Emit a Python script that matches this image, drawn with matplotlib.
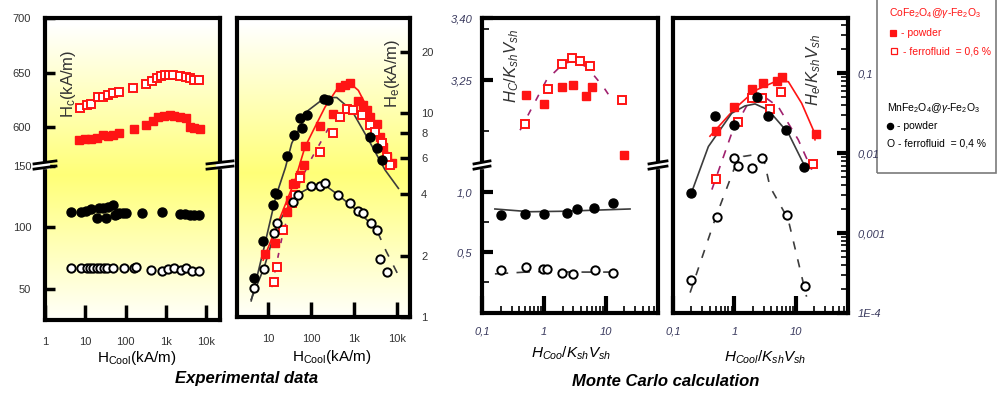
import numpy as np
import matplotlib.pyplot as plt
from matplotlib import ticker
from matplotlib.lines import Line2D
from matplotlib.patches import Rectangle
from matplotlib.colors import LinearSegmentedColormap

W, H = 998, 395

plt.rcParams['font.family'] = ['Liberation Sans', 'DejaVu Sans']
plt.rcParams['mathtext.fontset'] = 'custom'
plt.rcParams['mathtext.rm'] = 'Liberation Sans'
plt.rcParams['mathtext.it'] = 'Liberation Sans:italic'
plt.rcParams['mathtext.bf'] = 'Liberation Sans:bold'

# ---------------- experimental: Hc (kA/m) vs Hcool (kA/m)
hc_co_ff_x = [7.4, 10.8, 14, 20, 27, 36, 48, 67, 152, 309, 437, 583, 750, 944, 1150, 1520, 2240, 3030, 3800, 4780, 6400]
hc_co_ff_y = [618, 620, 621, 627.5, 628, 629.6, 631, 632.6, 636, 640, 642.5, 644.7, 646.5, 647.4, 647.7, 647.7, 646.5, 645.6, 644.7, 643.5, 643.5]
hc_co_pw_x = [7.1, 10, 13.9, 19.2, 27, 36, 48, 67, 158, 311, 465, 645, 890, 1220, 1580, 2240, 3160, 3980, 5000, 6800]
hc_co_pw_y = [588.4, 589, 589.3, 590.2, 593, 592.4, 593.3, 594.5, 598, 602, 605.7, 609, 610.6, 611.3, 610.6, 609.7, 608.5, 600.5, 599.6, 598]
hc_mn_pw_x = [4.4, 7.8, 10.4, 13.9, 19.2, 22, 27, 33, 36, 48, 53, 60, 70, 85, 104, 247, 805, 2240, 2990, 3980, 4800, 6400]
hc_mn_pw_y = [112.6, 112.6, 113.4, 114.6, 107.3, 115.4, 116, 107.3, 116.7, 118, 110, 111, 111.3, 111.5, 111.8, 111.8, 112.1, 110.5, 110.5, 109.7, 109.7, 109.7]
hc_mn_ff_x = [4.4, 7.8, 10.8, 13.1, 15.8, 19.2, 23.3, 28.2, 34, 48, 89, 158, 184, 414, 780, 1140, 1530, 2370, 3160, 4400, 6400]
hc_mn_ff_y = [66.8, 66.8, 66.8, 66.8, 66.8, 66.8, 66.8, 66.8, 66.8, 66.8, 66.8, 66.8, 68.1, 65.4, 64.6, 66, 66.8, 65.4, 66.8, 64.9, 64.9]

# ---------------- experimental: He (kA/m) vs Hcool (kA/m)
he_mn_pw_x = [4.7, 7.6, 13.1, 14.3, 15.7, 26.7, 40, 55, 60, 78, 200, 250, 2350, 3340, 4350]
he_mn_pw_y = [1.55, 2.36, 3.54, 4.04, 4.0, 6.15, 7.8, 9.5, 8.4, 9.8, 11.7, 11.6, 7.65, 6.7, 5.9]
he_mn_pw_fit_x = [4.0, 8, 15, 25, 35, 85, 209, 390, 870, 2130, 5200, 10600]
he_mn_pw_fit_y = [1.2, 2.2, 3.9, 5.4, 7.1, 10.3, 11.9, 11.9, 10.3, 7.4, 5.25, 4.27]

he_mn_ff_x = [4.6, 8.1, 13.2, 15.7, 38, 48, 98, 159, 209, 410, 795, 1240, 1620, 2450, 3330, 3960, 5880]
he_mn_ff_y = [1.38, 1.71, 2.59, 2.9, 3.67, 3.96, 4.39, 4.39, 4.52, 3.96, 3.63, 3.32, 3.22, 2.88, 2.67, 1.92, 1.67]
he_mn_ff_fit_x = [4.0, 8, 15.7, 40, 100, 200, 400, 1200, 2500, 3500, 5500, 10600]
he_mn_ff_fit_y = [1.22, 1.75, 2.8, 3.9, 4.35, 4.45, 4.0, 3.3, 2.85, 2.6, 2.1, 1.6]

he_co_pw_x = [8.4, 14.3, 27, 32, 38, 42, 55, 69, 71, 159, 325, 465, 600, 795, 1240, 1620, 1940, 2340, 3330, 3960, 4760, 5660, 7400]
he_co_pw_y = [2.04, 2.3, 3.28, 3.74, 4.5, 4.55, 4.97, 5.56, 6.9, 8.6, 9.9, 13.4, 13.7, 14.0, 11.4, 10.9, 10.3, 9.6, 8.8, 7.65, 6.8, 6.1, 5.7]
he_co_pw_fit_x = [7.6, 42, 71, 122, 209, 425, 730, 1240, 2550, 5200, 8800]
he_co_pw_fit_y = [1.9, 4.7, 6.8, 8.55, 10.7, 13.4, 14.2, 12.9, 9.6, 6.8, 5.45]

he_co_ff_x = [13.2, 15.7, 22.4, 35, 42, 55, 159, 325, 465, 665, 950, 1490, 2340, 3030, 4350, 5660, 6760]
he_co_ff_y = [1.49, 1.76, 2.67, 3.6, 3.96, 4.8, 6.46, 8.0, 9.6, 10.5, 10.3, 9.8, 8.7, 8.1, 7.1, 6.1, 5.56]
he_co_ff_fit_x = [12, 22, 45, 93, 250, 600, 1000, 2500, 5000, 9000]
he_co_ff_fit_y = [1.4, 2.6, 4.2, 5.8, 8.4, 10.2, 10.4, 8.3, 6.3, 5.0]

# ---------------- Monte Carlo: Hc/KshVsh vs Hcool/KshVsh
mc_hc_co_pw_x = [0.51, 1.0, 1.94, 2.92, 4.73, 5.93, 19.8]
mc_hc_co_pw_y = [3.2135, 3.192, 3.234, 3.238, 3.211, 3.232, 3.068]
mc_hc_co_ff_x = [0.49, 1.17, 1.94, 2.88, 3.83, 5.57, 18.2]
mc_hc_co_ff_y = [3.142, 3.227, 3.29, 3.304, 3.297, 3.284, 3.201]
mc_hc_co_ff_fit_x = [0.41, 1.1, 2.06, 2.99, 4.93, 9.1, 13.3]
mc_hc_co_ff_fit_y = [3.128, 3.25, 3.29, 3.296, 3.282, 3.234, 3.197]
mc_hc_mn_pw_x = [0.2, 0.5, 0.99, 2.33, 3.39, 6.5, 13.3]
mc_hc_mn_pw_y = [0.811, 0.819, 0.819, 0.83, 0.858, 0.867, 0.908]
mc_hc_mn_pw_fit_x = [0.16, 0.59, 2.06, 24.8]
mc_hc_mn_pw_fit_y = [0.861, 0.838, 0.842, 0.861]
mc_hc_mn_ff_x = [0.2, 0.51, 0.95, 1.13, 1.98, 2.92, 6.7, 13.3]
mc_hc_mn_ff_y = [0.353, 0.375, 0.358, 0.358, 0.33, 0.317, 0.353, 0.325]
mc_hc_mn_ff_fit_x = [0.16, 0.5, 1.0, 3.0, 10, 20]
mc_hc_mn_ff_fit_y = [0.32, 0.335, 0.34, 0.335, 0.335, 0.335]

# ---------------- Monte Carlo: He/KshVsh vs Hcool/KshVsh
mc_he_co_pw_x = [0.5, 1.0, 1.96, 2.9, 4.9, 5.9, 21.2]
mc_he_co_pw_y = [0.0192, 0.0376, 0.063, 0.075, 0.080, 0.0907, 0.0174]
mc_he_co_pw_fit_x = [0.4, 1.03, 2.17, 4.6, 7.57, 12.5, 19.3, 20.6]
mc_he_co_pw_fit_y = [0.0163, 0.0365, 0.0607, 0.0785, 0.0785, 0.042, 0.0195, 0.0147]
mc_he_co_ff_x = [0.5, 1.16, 1.92, 2.86, 3.81, 5.7, 18.9]
mc_he_co_ff_y = [0.0048, 0.0248, 0.0487, 0.0487, 0.0358, 0.059, 0.0073]
mc_he_co_ff_fit_x = [0.43, 0.906, 1.92, 2.79, 5.2, 11, 18.2]
mc_he_co_ff_fit_y = [0.0035, 0.0178, 0.051, 0.0535, 0.038, 0.0147, 0.0062]
mc_he_mn_pw_x = [0.2, 0.49, 0.98, 2.32, 3.5, 6.87, 13.6]
mc_he_mn_pw_y = [0.0032, 0.0288, 0.0226, 0.05, 0.0295, 0.0195, 0.0067]
mc_he_mn_pw_fit_x = [0.2, 0.377, 0.906, 1.49, 2.17, 3.57, 7.57, 14.1]
mc_he_mn_pw_fit_y = [0.0032, 0.0121, 0.0316, 0.039, 0.0413, 0.0347, 0.0178, 0.0068]
mc_he_mn_ff_x = [0.2, 0.52, 1.0, 1.16, 1.92, 2.86, 7.1, 14.2]
mc_he_mn_ff_y = [0.00026, 0.0016, 0.0087, 0.007, 0.0065, 0.0087, 0.0017, 0.000215]
mc_he_mn_ff_fit_x = [0.19, 0.5, 1.0, 1.4, 2.0, 3.0, 3.8, 7.5, 15]
mc_he_mn_ff_fit_y = [0.00018, 0.0016, 0.0065, 0.0091, 0.0095, 0.0085, 0.0038, 0.0015, 0.00016]

RED = '#ff1414'
PURPLE = '#a0206e'
GREY = '#3c3c3c'
LBL = '#333333'
MCLBL = '#3a3a5e'


def px_rect(l, t, r, b):
    return [l / W, 1 - b / H, (r - l) / W, (b - t) / H]


def fx(x):
    return x / W


def fy(y):
    return 1 - y / H


fig = plt.figure(figsize=(W / 100, H / 100), dpi=100)

# yellow backdrop behind the experimental panels
cmap = LinearSegmentedColormap.from_list('wy', ['#ffffff', '#ffff78'])
prof = np.linspace(0, 1, 300)
prof = np.clip(1 - np.abs(prof - 0.52) / 0.5, 0, 1)[:, None]
for box in [(45, 18, 220, 320), (237, 18, 410, 317)]:
    bg = fig.add_axes(px_rect(*box), zorder=0)
    bg.imshow(prof, aspect='auto', cmap=cmap, vmin=0, vmax=1, extent=[0, 1, 0, 1])
    bg.axis('off')


def style_frame(ax):
    ax.set_facecolor('none')
    for s in ax.spines.values():
        s.set_linewidth(3)


def red_pw(ax, x, y):
    ax.plot(x, y, 's', ms=6, color=RED, mec=RED, zorder=3, clip_on=False)


def red_ff(ax, x, y):
    ax.plot(x, y, 's', ms=5.5, mfc='white', mec=RED, mew=1.4, zorder=3, clip_on=False)


def blk_pw(ax, x, y):
    ax.plot(x, y, 'o', ms=6.5, color='black', zorder=3, clip_on=False)


def blk_ff(ax, x, y):
    ax.plot(x, y, 'o', ms=6, mfc='white', mec='black', mew=1.4, zorder=3, clip_on=False)


def break_mark(x, y, half):
    fig.add_artist(Rectangle((fx(x - 4), fy(y + 2.5)), 8 / W, 5 / H, transform=fig.transFigure,
                             color='white', zorder=20))
    for dy in (-2.6, 2.6):
        fig.add_artist(Line2D([fx(x - half), fx(x + half)], [fy(y + dy + 1.5), fy(y + dy - 1.5)],
                              transform=fig.transFigure, color='black', lw=2, zorder=21))


# ---------------- panel 1: Hc, broken y axis
a1u = fig.add_axes(px_rect(45, 18, 220, 165), zorder=1)
a1l = fig.add_axes(px_rect(45, 165, 220, 320), zorder=1)
for ax in (a1u, a1l):
    style_frame(ax)
    ax.set_xscale('log')
    ax.set_xlim(1, 21600)
    ax.xaxis.set_minor_locator(ticker.NullLocator())
    ax.tick_params(axis='y', direction='in', length=7, width=2.5, pad=10, labelsize=8, labelcolor=LBL)
a1u.spines['bottom'].set_visible(False)
a1l.spines['top'].set_visible(False)
a1u.tick_params(axis='x', which='both', bottom=False, labelbottom=False)
a1u.set_ylim(565.4, 700)
a1l.set_ylim(25, 150.5)
a1u.set_yticks([600, 650, 700])
a1l.set_yticks([50, 100, 150])
a1l.set_xticks([1, 10, 100, 1e3, 1e4], ['1', '10', '100', '1k', '10k'])
a1l.tick_params(axis='x', direction='in', length=11, width=2.5, pad=12, labelsize=8, labelcolor=LBL)

red_ff(a1u, hc_co_ff_x, hc_co_ff_y)
red_pw(a1u, hc_co_pw_x, hc_co_pw_y)
blk_pw(a1l, hc_mn_pw_x, hc_mn_pw_y)
blk_ff(a1l, hc_mn_ff_x, hc_mn_ff_y)

break_mark(45, 165, 11)
break_mark(220, 165, 13)
fig.text(fx(68), fy(84), r'$\mathrm{H_c}$(kA/m)', rotation=90, ha='center', va='center', fontsize=12, color=LBL)
fig.text(fx(137), fy(358), r'$\mathrm{H_{Cool}}$(kA/m)', ha='center', va='center', fontsize=11)

# ---------------- panel 2: He
a2 = fig.add_axes(px_rect(237, 18, 410, 317), zorder=1)
style_frame(a2)
a2.set_xscale('log')
a2.set_yscale('log')
a2.set_xlim(1.87, 19700)
a2.set_ylim(1, 29.2)
a2.xaxis.set_minor_locator(ticker.NullLocator())
a2.yaxis.set_minor_locator(ticker.NullLocator())
a2.set_xticks([10, 100, 1e3, 1e4], ['10', '100', '1k', '10k'])
a2.yaxis.tick_right()
a2.set_yticks([1, 2, 4, 6, 8, 10, 20], ['1', '2', '4', '6', '8', '10', '20'])
a2.tick_params(axis='x', direction='in', length=11, width=2.5, pad=12, labelsize=8, labelcolor=LBL)
a2.tick_params(axis='y', direction='in', length=7, width=2.5, pad=8, labelsize=8, labelcolor=LBL)

a2.plot(he_mn_pw_fit_x, he_mn_pw_fit_y, color=GREY, lw=1.2, zorder=2)
a2.plot(he_mn_ff_fit_x[:10], he_mn_ff_fit_y[:10], color=GREY, lw=1.2, zorder=2)
a2.plot(he_mn_ff_fit_x[9:], he_mn_ff_fit_y[9:], color=GREY, lw=1.2, ls=(0, (5, 6)), zorder=2)
a2.plot(he_co_pw_fit_x, he_co_pw_fit_y, color=RED, lw=1.2, zorder=2)
a2.plot(he_co_ff_fit_x, he_co_ff_fit_y, color=PURPLE, lw=1.2, ls=(0, (3, 6)), zorder=2)
red_pw(a2, he_co_pw_x, he_co_pw_y)
red_ff(a2, he_co_ff_x, he_co_ff_y)
blk_pw(a2, he_mn_pw_x, he_mn_pw_y)
blk_ff(a2, he_mn_ff_x, he_mn_ff_y)

fig.text(fx(392), fy(73), r'$\mathrm{H_e}$(kA/m)', rotation=90, ha='center', va='center', fontsize=12, color=LBL)
fig.text(fx(332), fy(357), r'$\mathrm{H_{Cool}}$(kA/m)', ha='center', va='center', fontsize=11)

# ---------------- panel 3: Monte Carlo Hc, broken y axis
minor_log = ticker.LogLocator(base=10, subs=np.arange(2, 10))
a3u = fig.add_axes(px_rect(482, 18, 658, 165), zorder=1)
a3l = fig.add_axes(px_rect(482, 165, 658, 313), zorder=1)
for ax in (a3u, a3l):
    style_frame(ax)
    ax.set_xscale('log')
    ax.set_xlim(0.0989, 70.4)
    ax.tick_params(axis='y', which='major', direction='in', length=8, width=3, pad=7,
                   labelsize=8, labelcolor=MCLBL)
    ax.tick_params(axis='y', which='minor', direction='in', length=5, width=1.2)
a3u.spines['bottom'].set_visible(False)
a3l.spines['top'].set_visible(False)
a3u.tick_params(axis='x', which='both', bottom=False, labelbottom=False)
a3u.set_ylim(3.0434, 3.4007)
a3l.set_ylim(-0.006, 1.2275)
a3u.set_yticks([3.25, 3.40], ['3,25', '3,40'])
a3u.set_yticks([3.125, 3.375], minor=True)
a3l.set_yticks([0.5, 1.0], ['0,5', '1,0'])
a3l.set_yticks([0.25, 0.75], minor=True)
a3l.set_xticks([0.1, 1, 10], ['0,1', '1', '10'])
a3l.xaxis.set_minor_locator(minor_log)
a3l.xaxis.set_minor_formatter(ticker.NullFormatter())
a3l.tick_params(axis='x', which='major', direction='in', length=12, width=3, pad=10,
                labelsize=8, labelcolor=MCLBL)
a3l.tick_params(axis='x', which='minor', direction='in', length=5, width=1.2)
for ax in (a3u, a3l):
    for t in ax.get_yticklabels() + ax.get_xticklabels():
        t.set_fontstyle('italic')

a3u.plot(mc_hc_co_ff_fit_x, mc_hc_co_ff_fit_y, color=PURPLE, lw=1.2, ls=(0, (4, 6)), zorder=2)
red_pw(a3u, mc_hc_co_pw_x, mc_hc_co_pw_y)
red_ff(a3u, mc_hc_co_ff_x, mc_hc_co_ff_y)
a3l.plot(mc_hc_mn_pw_fit_x, mc_hc_mn_pw_fit_y, color=GREY, lw=1.2, zorder=2)
a3l.plot(mc_hc_mn_ff_fit_x, mc_hc_mn_ff_fit_y, color=GREY, lw=1.2, ls=(0, (8, 5)), zorder=2)
blk_pw(a3l, mc_hc_mn_pw_x, mc_hc_mn_pw_y)
blk_ff(a3l, mc_hc_mn_ff_x, mc_hc_mn_ff_y)

break_mark(482, 165, 8)
break_mark(658, 165, 9)
fig.text(fx(512), fy(66), r'$H_C/K_{sh}V_{sh}$', rotation=90, ha='center', va='center', fontsize=12, color=LBL)
fig.text(fx(571), fy(353), r'$H_{Coo}/K_{sh}V_{sh}$', ha='center', va='center', fontsize=11)

# ---------------- panel 4: Monte Carlo He
a4 = fig.add_axes(px_rect(673, 18, 848, 313), zorder=1)
style_frame(a4)
a4.set_xscale('log')
a4.set_yscale('log')
a4.set_xlim(0.1, 71)
a4.set_ylim(1e-4, 0.491)
a4.set_xticks([0.1, 1, 10], ['0,1', '1', '10'])
a4.xaxis.set_minor_locator(minor_log)
a4.xaxis.set_minor_formatter(ticker.NullFormatter())
a4.yaxis.tick_right()
a4.set_yticks([1e-4, 1e-3, 1e-2, 1e-1], ['1E-4', '0,001', '0,01', '0,1'])
a4.yaxis.set_minor_locator(ticker.LogLocator(base=10, subs=np.arange(2, 10)))
a4.yaxis.set_minor_formatter(ticker.NullFormatter())
a4.tick_params(axis='x', which='major', direction='in', length=12, width=3, pad=10,
               labelsize=8, labelcolor=MCLBL)
a4.tick_params(axis='y', which='major', direction='in', length=8, width=3, pad=7,
               labelsize=8, labelcolor=MCLBL)
a4.tick_params(which='minor', direction='in', length=5, width=1.2)
for t in a4.get_yticklabels() + a4.get_xticklabels():
    t.set_fontstyle('italic')

a4.plot(mc_he_co_pw_fit_x, mc_he_co_pw_fit_y, color=RED, lw=1.2, zorder=2)
a4.plot(mc_he_co_ff_fit_x, mc_he_co_ff_fit_y, color=PURPLE, lw=1.2, ls=(0, (5, 5)), zorder=2)
a4.plot(mc_he_mn_pw_fit_x, mc_he_mn_pw_fit_y, color=GREY, lw=1.2, zorder=2)
a4.plot(mc_he_mn_ff_fit_x, mc_he_mn_ff_fit_y, color=GREY, lw=1.2, ls=(0, (5, 6)), zorder=2)
red_pw(a4, mc_he_co_pw_x, mc_he_co_pw_y)
red_ff(a4, mc_he_co_ff_x, mc_he_co_ff_y)
blk_pw(a4, mc_he_mn_pw_x, mc_he_mn_pw_y)
blk_ff(a4, mc_he_mn_ff_x, mc_he_mn_ff_y)

fig.text(fx(814), fy(70), r'$H_e/K_{sh}V_{sh}$', rotation=90, ha='center', va='center', fontsize=12, color=LBL)
fig.text(fx(765), fy(357), r'$H_{Cool}/K_{sh}V_{sh}$', ha='center', va='center', fontsize=11)

# ---------------- legend box
fig.add_artist(Rectangle((fx(877), fy(173)), (996 - 877) / W, 180 / H, transform=fig.transFigure,
                         fill=False, ec='#7a7a7a', lw=1.2))
leg_symbols = [
    (893, 33, 's', RED, RED),
    (894, 51, 's', 'white', RED),
    (890, 126, 'o', 'black', 'black'),
]
for x, y, m, fc, ec in leg_symbols:
    fig.add_artist(Line2D([fx(x)], [fy(y)], marker=m, ms=4.5, mfc=fc, mec=ec, mew=0.9,
                          ls='none', transform=fig.transFigure))
leg = [
    (889, 13, r'CoFe$_2$O$_4$@$\gamma$-Fe$_2$O$_3$', RED),
    (901, 33, '- powder', RED),
    (903, 51, '- ferrofluid  = 0,6 %', RED),
    (887, 108, r'MnFe$_2$O$_4$@$\gamma$-Fe$_2$O$_3$', 'black'),
    (897, 126, '- powder', 'black'),
    (887, 144, 'O - ferrofluid  = 0,4 %', 'black'),
]
for x, y, s, c in leg:
    fig.text(fx(x), fy(y), s, ha='left', va='center', fontsize=7.5, color=c)

fig.text(fx(247), fy(379), 'Experimental data', ha='center', va='center',
         fontsize=12, fontweight='bold', fontstyle='italic')
fig.text(fx(666), fy(381), 'Monte Carlo calculation', ha='center', va='center',
         fontsize=12, fontweight='bold', fontstyle='italic')

fig.savefig('out.png', dpi=100)
